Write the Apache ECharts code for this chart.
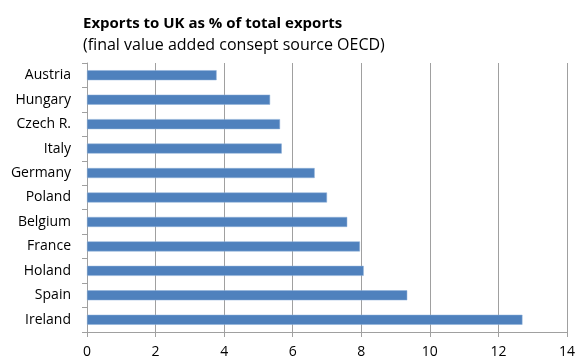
<!DOCTYPE html>
<html>
<head>
<meta charset="utf-8">
<style>
  html, body { margin: 0; padding: 0; background: #ffffff; }
  #chart { width: 581px; height: 360px; }
</style>
<script src="https://cdn.jsdelivr.net/npm/echarts@6/dist/echarts.min.js"></script>
</head>
<body>
<div id="chart"></div>
<script>
// Countries listed top to bottom
const countries = ['Austria', 'Hungary', 'Czech R.', 'Italy', 'Germany', 'Poland',
                   'Belgium', 'France', 'Holand', 'Spain', 'Ireland'];
// Exports to UK, % of total exports
const exportShare = [3.78, 5.34, 5.63, 5.68, 6.64, 7.0, 7.59, 7.96, 8.07, 9.34, 12.70];
const xTicks = [0, 2, 4, 6, 8, 10, 12, 14];

const titleText = 'Exports to UK as % of total exports';
const subtitleText = '(final value added consept source OECD)';

const fontFamily = '"Open Sans", "Noto Sans", sans-serif';
const axisGrey = '#a0a0a0';

const chart = echarts.init(document.getElementById('chart'), null, { renderer: 'canvas' });

chart.setOption({
  animation: false,
  backgroundColor: '#ffffff',
  title: [
    {
      text: titleText,
      left: 83, top: 16,
      padding: 0,
      textStyle: { fontFamily, fontSize: 15, fontWeight: 'bold', color: '#000000' }
    },
    {
      text: subtitleText,
      left: 83, top: 37,
      padding: 0,
      textStyle: { fontFamily, fontSize: 16, fontWeight: 'normal', color: '#000000' }
    }
  ],
  grid: { left: 87, right: 14, top: 63, bottom: 28, containLabel: false },
  xAxis: {
    type: 'value',
    min: xTicks[0],
    max: xTicks[xTicks.length - 1],
    interval: 2,
    axisLine: { show: true, lineStyle: { color: axisGrey, width: 1 } },
    axisTick: { show: true, inside: false, length: 5, lineStyle: { color: axisGrey } },
    axisLabel: { fontFamily, fontSize: 14, color: '#000000', margin: 13 },
    splitLine: { show: true, lineStyle: { color: axisGrey, width: 1 } }
  },
  yAxis: {
    type: 'category',
    data: countries,
    inverse: true,
    axisLine: { show: true, lineStyle: { color: axisGrey, width: 1 } },
    axisTick: { show: true, inside: false, length: 5, lineStyle: { color: axisGrey } },
    axisLabel: { fontFamily, fontSize: 14, color: '#000000', margin: 16 },
    splitLine: { show: false }
  },
  series: [
    {
      type: 'bar',
      data: exportShare,
      barWidth: 10,
      itemStyle: { color: '#4f81bd', borderColor: '#8fb0d9', borderWidth: 0.5 }
    }
  ]
});
</script>
</body>
</html>
